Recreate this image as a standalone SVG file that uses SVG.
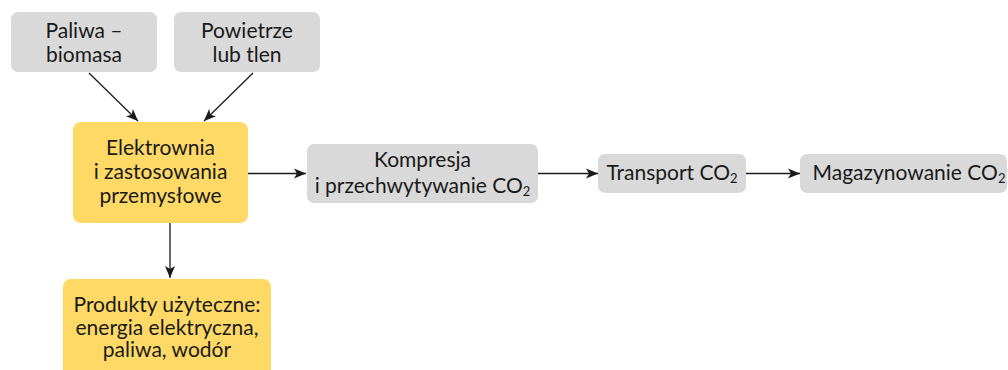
<svg xmlns="http://www.w3.org/2000/svg" width="1008" height="370" viewBox="0 0 1008 370">
<style>
.g{fill:#d9d9d9}
.y{fill:#ffd966}
text{font-family:Lato,"Open Sans","Liberation Sans",sans-serif;font-size:21px;fill:#1a1a1a;text-anchor:middle}
.sub{font-size:13px}
.c line{stroke:#1a1a1a;stroke-width:1.3;fill:none}
</style>
<defs>
<marker id="ah" markerUnits="userSpaceOnUse" markerWidth="14" markerHeight="12" refX="12" refY="6" orient="auto">
<path d="M0,1 L12,6 L0,11 L3,6 Z" fill="#1a1a1a"/>
</marker>
</defs>
<rect width="1008" height="370" fill="#fff"/>
<g class="c">
<line x1="89" y1="73" x2="138" y2="121" marker-end="url(#ah)"/>
<line x1="253" y1="73" x2="204" y2="121" marker-end="url(#ah)"/>
<line x1="248" y1="173.5" x2="306" y2="173.5" marker-end="url(#ah)"/>
<line x1="538" y1="173.5" x2="598" y2="173.5" marker-end="url(#ah)"/>
<line x1="746" y1="173.5" x2="800" y2="173.5" marker-end="url(#ah)"/>
<line x1="170" y1="223" x2="170" y2="278" marker-end="url(#ah)"/>
</g>
<g id="paliwa">
<rect class="g" x="11" y="12" width="146" height="60" rx="7"/>
<text x="84" y="38">Paliwa –</text>
<text x="84" y="62">biomasa</text>
</g>
<g id="powietrze">
<rect class="g" x="174" y="12" width="146" height="60" rx="7"/>
<text x="247" y="38">Powietrze</text>
<text x="247" y="62">lub tlen</text>
</g>
<g id="elektrownia">
<rect class="y" x="73" y="122" width="175" height="101" rx="8"/>
<text x="160.5" y="155">Elektrownia</text>
<text x="160.5" y="179">i zastosowania</text>
<text x="160.5" y="203">przemysłowe</text>
</g>
<g id="kompresja">
<rect class="g" x="307" y="144" width="231" height="59" rx="7"/>
<text x="422.5" y="167">Kompresja</text>
<text x="422.5" y="193">i przechwytywanie CO<tspan class="sub" dy="3">2</tspan></text>
</g>
<g id="transport">
<rect class="g" x="598" y="154" width="148" height="39" rx="7"/>
<text x="672" y="179.5">Transport CO<tspan class="sub" dy="3">2</tspan></text>
</g>
<g id="magazynowanie">
<rect class="g" x="800" y="154" width="207" height="39" rx="7"/>
<text x="909" y="179.5">Magazynowanie CO<tspan class="sub" dy="3">2</tspan></text>
</g>
<g id="produkty">
<rect class="y" x="63" y="279" width="208" height="110" rx="8"/>
<text x="167" y="311.5">Produkty użyteczne:</text>
<text x="167" y="334.5">energia elektryczna,</text>
<text x="167" y="357">paliwa, wodór</text>
</g>
</svg>
